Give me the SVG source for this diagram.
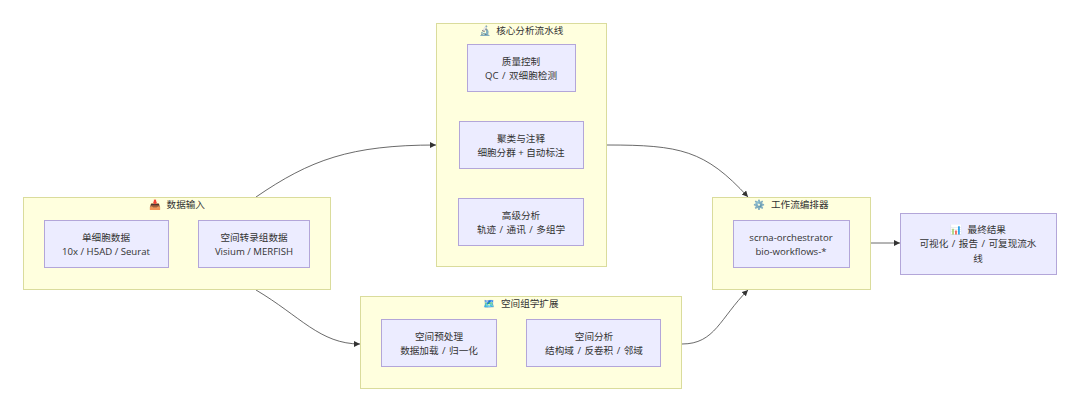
<svg xmlns="http://www.w3.org/2000/svg" width="1080" height="412" viewBox="0 0 1080 412">
<style>
text{font-family:"Open Sans","Noto Sans CJK SC",sans-serif;font-size:9.6px;fill:#333;text-anchor:middle}
.t{word-spacing:3px}
.w{word-spacing:1px}
.c{fill:#ffffde;stroke:#dadc9c;stroke-width:1}
.n{fill:#ececff;stroke:#b3a6d9;stroke-width:1}
.e{fill:none;stroke:#444;stroke-width:.8;marker-end:url(#a)}
</style>
<defs><marker id="a" markerUnits="userSpaceOnUse" markerWidth="8" markerHeight="8" refX="6" refY="3" orient="auto"><path d="M0 0L6 3L0 6z" fill="#333"/></marker></defs>
<rect width="1080" height="412" fill="#fff"/>
<g id="connectors">
<path class="e" d="M256 197C310 160 350 145 436 145"/>
<path class="e" d="M256 290C300 316 320 344 360 344"/>
<path class="e" d="M607 145C680 145 705 150 748 197"/>
<path class="e" d="M682 344C715 344 720 318 748 290"/>
<path class="e" d="M870 243H900"/>
</g>
<g id="input"><rect class="c" x="23.500" y="197.500" width="307" height="92"/><text class="t" x="177" y="208">📥 数据输入</text></g>
<g id="core"><rect class="c" x="436.500" y="23.500" width="170" height="243"/><text class="t" x="521" y="34">🔬 核心分析流水线</text></g>
<g id="spatial"><rect class="c" x="360.500" y="296.500" width="321" height="92"/><text class="t" x="521" y="307">🗺️ 空间组学扩展</text></g>
<g id="orch"><rect class="c" x="712.500" y="197.500" width="158" height="92"/><text class="t" x="791" y="208">⚙️ 工作流编排器</text></g>
<g id="sc"><rect class="n" x="44.500" y="220.500" width="124" height="47"/><text x="106" y="240.500">单细胞数据</text><text x="106" y="254.500">10x / H5AD / Seurat</text></g>
<g id="st"><rect class="n" x="198.500" y="220.500" width="111" height="47"/><text x="254" y="240.500">空间转录组数据</text><text x="254" y="254.500">Visium / MERFISH</text></g>
<g id="qc"><rect class="n" x="467.500" y="44.500" width="108" height="47"/><text x="521" y="64.500">质量控制</text><text class="w" x="521" y="78.500">QC / 双细胞检测</text></g>
<g id="cluster"><rect class="n" x="459.500" y="121.500" width="124" height="47"/><text x="521" y="141.500">聚类与注释</text><text x="521" y="155.500">细胞分群 + 自动标注</text></g>
<g id="adv"><rect class="n" x="458.500" y="198.500" width="125" height="47"/><text x="521" y="218.500">高级分析</text><text class="w" x="521" y="232.500">轨迹 / 通讯 / 多组学</text></g>
<g id="pre"><rect class="n" x="381.500" y="319.500" width="115" height="47"/><text x="439" y="339.500">空间预处理</text><text class="w" x="439" y="353.500">数据加载 / 归一化</text></g>
<g id="ana"><rect class="n" x="526.500" y="319.500" width="134" height="47"/><text x="594" y="339.500">空间分析</text><text class="w" x="594" y="353.500">结构域 / 反卷积 / 邻域</text></g>
<g id="tool"><rect class="n" x="733.500" y="220.500" width="116" height="47"/><text x="791" y="240.500">scrna-orchestrator</text><text x="791" y="254.500">bio-workflows-*</text></g>
<g id="final"><rect class="n" x="900.500" y="213.500" width="156" height="61"/><text class="t" x="978" y="232.500">📊 最终结果</text><text class="w" x="978" y="247">可视化 / 报告 / 可复现流水</text><text x="978" y="261.500">线</text></g>
</svg>
